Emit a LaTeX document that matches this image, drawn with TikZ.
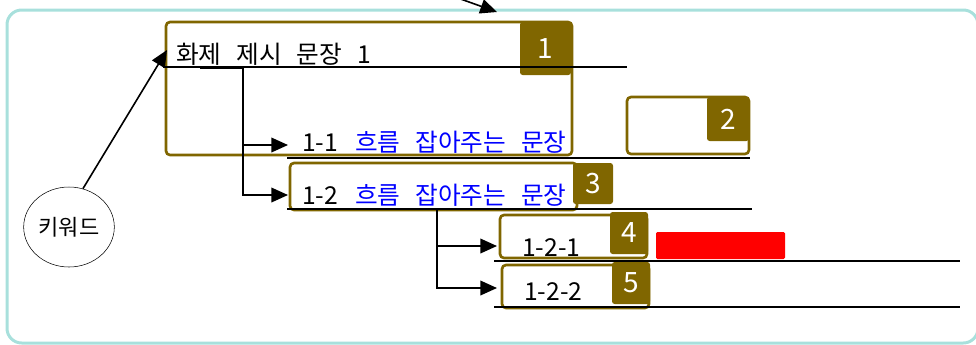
\documentclass[tikz,border=0pt]{standalone}
\usepackage{fontspec}
\setmainfont[WordSpace=2.7]{Noto Sans CJK KR}
\usetikzlibrary{shapes.geometric,arrows.meta}
\definecolor{boxolive}{RGB}{128,102,0}
\definecolor{frameteal}{RGB}{168,224,220}
\newcommand{\bigtxt}{\fontsize{18.5}{18.5}\selectfont}
\tikzstyle{box} = [rectangle, rounded corners=3pt, inner sep=0pt, draw=boxolive, line width=2pt]
\tikzstyle{badge} = [rectangle, rounded corners=2pt, inner sep=0pt, fill=boxolive, text=white, font=\fontsize{21}{21}\selectfont]
\tikzstyle{sentence} = [anchor=base west, inner sep=0pt, font=\bigtxt]
\tikzstyle{keyword} = [ellipse, draw=black, thin, minimum width=68pt, minimum height=60pt, inner sep=0pt, font=\fontsize{16.5}{16.5}\selectfont]
\tikzstyle{arrow} = [line width=1.2pt,-{Triangle[length=12.5pt,width=11pt]}]
\tikzstyle{rule} = [line width=0.9pt]

\begin{document}
\begin{tikzpicture}[x=0.75pt,y=-0.75pt]
\useasboundingbox (0,0) rectangle (976,344);
\clip (0,0) rectangle (976,344);
% frame round the whole map
\draw[frameteal, line width=2.25pt, rounded corners=11pt] (7,10) rectangle (978,343);

% topic sentence
\node (Topic)[box, minimum width=304.5pt, minimum height=99.75pt] at (369,88.5) {};
\node (Badge1)[badge, minimum width=38.25pt, minimum height=39.75pt] at (545.5,48.5) {1};
\node (TopicText)[sentence] at (176,63) {화제 제시 문장 1};
\draw[rule] (163,67) -- (627,67);

% box 2, still empty
\node (Spare)[box, minimum width=91.5pt, minimum height=42.75pt] at (688,125.5) {};
\node (Badge2)[badge, minimum width=31.5pt, minimum height=33pt] at (728,119) {2};

% flow sentences
\node (FlowA)[sentence] at (302,151) {1-1};
\node (FlowAText)[sentence, text=blue] at (355,151) {흐름 잡아주는 문장};
\draw[rule] (287,158) -- (750,158);

\node (FlowB)[box, minimum width=215.25pt, minimum height=35.25pt] at (433.5,186.5) {};
\node (Badge3)[badge, minimum width=30pt, minimum height=30.75pt] at (593,183.5) {3};
\node (FlowBNum)[sentence] at (302,204) {1-2};
\node (FlowBText)[sentence, text=blue] at (355,204) {흐름 잡아주는 문장};
\draw[rule] (287,209) -- (752,209);

% details under 1-2
\node (DetailA)[box, minimum width=110.25pt, minimum height=32.25pt] at (573.5,236.5) {};
\node (Badge4)[badge, minimum width=28.5pt, minimum height=31.5pt] at (629,233) {4};
\node (DetailAText)[sentence] at (522,256) {1-2-1};
\node (Mark)[rectangle, fill=red, rounded corners=1pt, minimum width=96.75pt, minimum height=20.25pt] at (720.5,245.5) {};
\draw[rule] (494,261) -- (960,261);

\node (DetailB)[box, minimum width=110.25pt, minimum height=32.25pt] at (575.5,286.5) {};
\node (Badge5)[badge, minimum width=28.5pt, minimum height=31.5pt] at (631,283) {5};
\node (DetailBText)[sentence] at (524,300) {1-2-2};
\draw[rule] (494,307) -- (960,307);

% keyword bubble
\node (Keyword)[keyword] at (69,227) {키워드};

% connectors
\coordinate (TopicRoot) at (200,68);
\coordinate (TopicTrunk) at (243,68);
\coordinate (FlowAIn) at (288,145);
\coordinate (FlowBIn) at (288,195);
\draw[line width=1.2pt] (TopicRoot) -- (TopicTrunk);
\draw[arrow] (TopicTrunk) |- (FlowAIn);
\draw[arrow] (TopicTrunk) |- (FlowBIn);

\coordinate (FlowBTrunk) at (437,210);
\coordinate (DetailAIn) at (497,246);
\coordinate (DetailBIn) at (497,288);
\draw[arrow] (FlowBTrunk) |- (DetailAIn);
\draw[arrow] (FlowBTrunk) |- (DetailBIn);

\coordinate (TopicIn) at (167,50);
\draw[arrow] (Keyword.70) -- (TopicIn);

\coordinate (Incoming) at (455,-3);
\coordinate (IncomingTip) at (497,12);
\draw[arrow] (Incoming) -- (IncomingTip);
\end{tikzpicture}
\end{document}
